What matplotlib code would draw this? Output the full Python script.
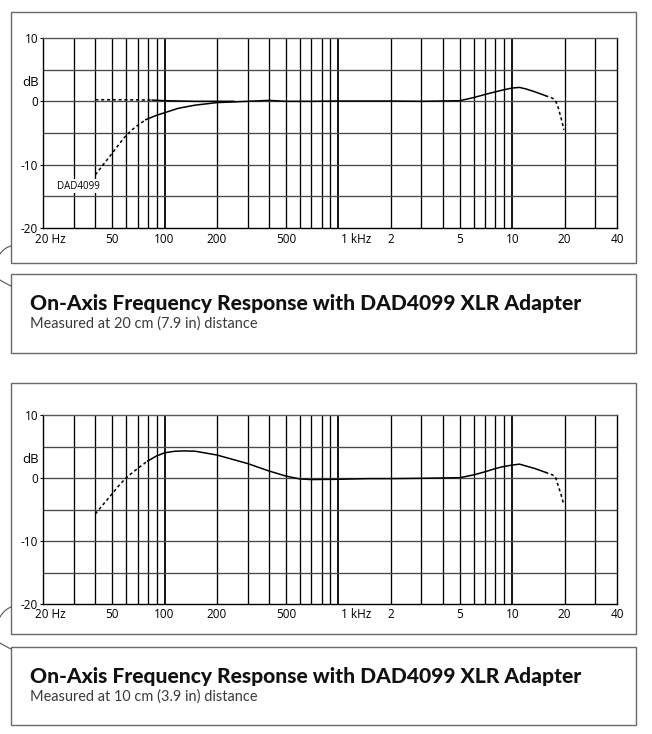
import numpy as np
import matplotlib
matplotlib.use('Agg')
import matplotlib.pyplot as plt
import matplotlib.transforms as mtransforms
from matplotlib.patches import Rectangle
from matplotlib.lines import Line2D
from matplotlib.ticker import NullLocator

plt.rcParams['font.family'] = ['Open Sans', 'DejaVu Sans']

W, H = 652, 734

# ------------------------------------------------------------
# Datos
# ------------------------------------------------------------
xtick_pos = [20, 50, 100, 200, 500, 1000, 2000, 5000, 10000, 20000, 40000]
xtick_labels = ['20 Hz', '50', '100', '200', '500', '1 kHz', '2', '5', '10', '20', '40']
ytick_pos = [10, 0, -10, -20]
ytick_labels = ['10', '0', '-10', '-20']

# Grafico 1 (20 cm): curva con adaptador DAD4099
top_low_dash_f = [40, 45, 50, 55, 60, 65, 70, 78]
top_low_dash_db = [-11.6, -9.8, -8.2, -6.7, -5.4, -4.5, -3.8, -2.9]
top_mid_f = [78, 90, 100, 120, 150, 200, 300, 400, 500, 700, 1000, 2000, 3000,
             5000, 6000, 7000, 8000, 9000, 10000, 11000, 12000, 13500, 15500]
top_mid_db = [-2.9, -2.2, -1.8, -1.1, -0.6, -0.2, 0.0, 0.15, 0.0, 0.0, 0.05, 0.05, 0.0,
              0.1, 0.6, 1.1, 1.5, 1.85, 2.1, 2.2, 1.95, 1.5, 0.9]
top_high_dash_f = [15500, 17000, 17700, 18300, 19100, 19800]
top_high_dash_db = [0.9, 0.5, 0.1, -0.85, -2.7, -4.5]

# Grafico 1: curva de referencia plana
ref_dash_f = [40, 60, 85]
ref_dash_db = [0.25, 0.25, 0.2]
ref_solid_f = [85, 100, 150, 200, 250]
ref_solid_db = [0.2, 0.1, 0.0, 0.0, 0.0]

# Grafico 2 (10 cm)
bot_low_dash_f = [40, 45, 50, 55, 60, 65, 70, 80]
bot_low_dash_db = [-5.7, -4.0, -2.5, -1.1, 0.0, 0.8, 1.5, 2.7]
bot_mid_f = [80, 90, 100, 115, 130, 150, 200, 300, 400, 500, 600, 700, 1000, 1500,
             2000, 3000, 5000, 6000, 7000, 8000, 9000, 10000, 11000, 12000, 13500, 15500]
bot_mid_db = [2.7, 3.5, 4.0, 4.25, 4.3, 4.25, 3.65, 2.3, 1.1, 0.3, -0.15, -0.25, -0.2, -0.1,
              -0.1, -0.05, 0.05, 0.5, 1.0, 1.5, 1.85, 2.05, 2.2, 1.9, 1.5, 0.9]
bot_high_dash_f = [15500, 17000, 17700, 18300, 19100, 19800]
bot_high_dash_db = [0.9, 0.5, 0.2, -1.1, -2.7, -4.3]

titulo = 'On-Axis Frequency Response with DAD4099 XLR Adapter'
subtitulos = ['Measured at 20 cm (7.9 in) distance', 'Measured at 10 cm (3.9 in) distance']


# ------------------------------------------------------------
# Utilidades
# ------------------------------------------------------------
def px_rect(x0, y0, x1, y1):
    """Rectangulo en pixeles (origen arriba-izquierda) -> fraccion de figura"""
    return [x0 / W, 1 - y1 / H, (x1 - x0) / W, (y1 - y0) / H]


def fy(py):
    return 1 - py / H


DASH = (0, (2.0, 1.8))

fig = plt.figure(figsize=(W / 100, H / 100), dpi=100)


def preparar_ejes(ax):
    ax.set_xscale('log')
    ax.set_xlim(20, 40000)
    ax.set_ylim(-20, 10)
    # lineas verticales de la rejilla
    for dec in [10, 100, 1000, 10000]:
        for m in range(1, 10):
            f = m * dec
            if 20 < f < 40000:
                ax.axvline(f, color='black', lw=1.3 if m == 1 else 0.95, zorder=1)
    for y in [-15, -10, -5, 0, 5]:
        ax.axhline(y, color='#4a4a4a', lw=0.95, zorder=1)
    ax.xaxis.set_minor_locator(NullLocator())
    ax.set_xticks([])
    ax.tick_params(axis='x', which='both', length=0, labelbottom=False)
    ax.set_yticks(ytick_pos)
    ax.set_yticklabels(ytick_labels)
    ax.tick_params(axis='y', length=2, width=0.8, pad=1.5, labelsize=8.5)
    ax.spines['top'].set_color('#555555')
    for s in ax.spines.values():
        s.set_linewidth(1.0)
    trans = mtransforms.blended_transform_factory(ax.transData, ax.transAxes)
    offsets = {'20 Hz': -8, '1 kHz': 3}
    for f, lab in zip(xtick_pos, xtick_labels):
        if lab in offsets:
            t = mtransforms.offset_copy(trans, fig=fig, x=offsets[lab], y=0, units='dots')
            ax.text(f, -0.058, lab, transform=t, ha='left', va='center', fontsize=8.5)
        else:
            ax.text(f, -0.058, lab, transform=trans, ha='center', va='center', fontsize=8.5)
    ty = mtransforms.blended_transform_factory(ax.transAxes, ax.transData)
    ax.text(-0.007, 3.0, 'dB', transform=ty, ha='right', va='center', fontsize=9.5)


# Cajas externas
cajas = [(11, 12, 636, 263), (11, 274, 636, 353), (11, 383, 636, 634), (11, 647, 636, 725)]
for x0, y0, x1, y1 in cajas:
    r = px_rect(x0, y0, x1, y1)
    fig.patches.append(Rectangle((r[0], r[1]), r[2], r[3], transform=fig.transFigure,
                                 fill=False, edgecolor='#6a6a6a', lw=1.0))

# pequenos arcos a la izquierda
arcos = [((0, 254), (4, 248), (11, 246)), ((0, 280), (5, 283), (11, 286)),
         ((0, 617), (4, 610), (11, 607)), ((0, 643), (5, 646), (11, 649))]
for p0, p1, p2 in arcos:
    t = np.linspace(0, 1, 20)
    xs = (1 - t) ** 2 * p0[0] + 2 * (1 - t) * t * p1[0] + t ** 2 * p2[0]
    ys = (1 - t) ** 2 * p0[1] + 2 * (1 - t) * t * p1[1] + t ** 2 * p2[1]
    fig.lines.append(Line2D(xs / W, 1 - ys / H, transform=fig.transFigure,
                            color='#555555', lw=0.8))

# ------------------------------------------------------------
# Grafico 1
# ------------------------------------------------------------
ax1 = fig.add_axes(px_rect(43, 38, 617, 228))
preparar_ejes(ax1)
ax1.plot(ref_dash_f, ref_dash_db, color='black', lw=1.1, ls=DASH, zorder=3)
ax1.plot(ref_solid_f, ref_solid_db, color='black', lw=1.1, zorder=3)
ax1.plot(top_low_dash_f, top_low_dash_db, color='black', lw=1.1, ls=DASH, zorder=3)
ax1.plot(top_mid_f, top_mid_db, color='black', lw=1.1, zorder=3)
ax1.plot(top_high_dash_f, top_high_dash_db, color='black', lw=1.1, ls=DASH, zorder=3)
ax1.text(31.8, -13.4, 'DAD4099', ha='center', va='center', fontsize=7, zorder=4,
         bbox=dict(facecolor='white', edgecolor='none', pad=1.0))

# ------------------------------------------------------------
# Grafico 2
# ------------------------------------------------------------
ax2 = fig.add_axes(px_rect(43, 415, 617, 604))
preparar_ejes(ax2)
ax2.plot(bot_low_dash_f, bot_low_dash_db, color='black', lw=1.1, ls=DASH, zorder=3)
ax2.plot(bot_mid_f, bot_mid_db, color='black', lw=1.1, zorder=3)
ax2.plot(bot_high_dash_f, bot_high_dash_db, color='black', lw=1.1, ls=DASH, zorder=3)

# ------------------------------------------------------------
# Textos de las leyendas
# ------------------------------------------------------------
textos = []
for top, sub in zip([274, 647], subtitulos):
    t1 = fig.text(30 / W, fy(top + 29), titulo, family=['Lato', 'DejaVu Sans'],
                  fontweight=900, fontsize=13, va='center', ha='left', color='#111111')
    t2 = fig.text(30 / W, fy(top + 50), sub, family=['Lato', 'DejaVu Sans'],
                  fontweight=400, fontsize=9.5, va='center', ha='left', color='#3a3a3a')
    textos.append((t1, 550))
    textos.append((t2, 228))

# ajustar el tamano para que el ancho coincida
fig.canvas.draw()
rend = fig.canvas.get_renderer()
for t, ancho in textos:
    bb = t.get_window_extent(rend)
    t.set_fontsize(t.get_fontsize() * ancho / bb.width)

fig.savefig('out.png', dpi=100)
